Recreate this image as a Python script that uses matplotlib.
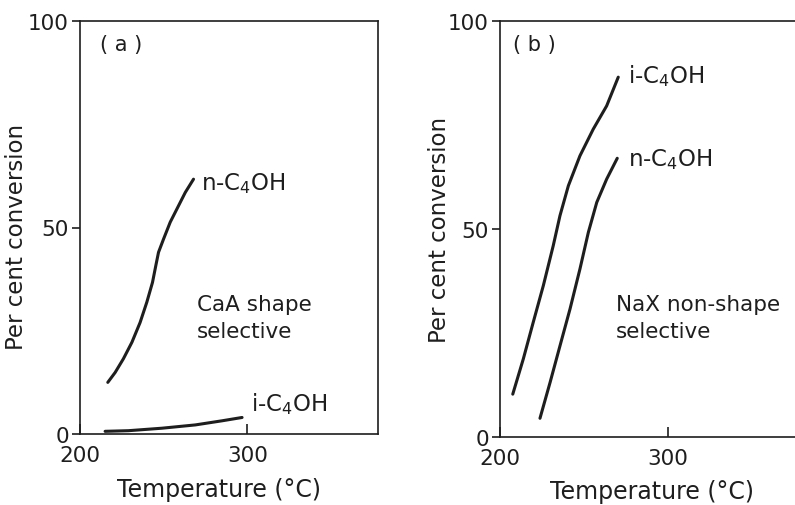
import matplotlib.pyplot as plt
import numpy as np

# panel (a): CaA, shape selective
temp_a_n = [216.6, 221.0, 225.9, 231.0, 235.9, 239.9, 243.3, 245.3, 246.9,
            249.9, 253.9, 258.9, 262.9, 267.8]
conv_a_n = [12.5, 14.9, 18.2, 22.2, 27.0, 31.9, 36.7, 40.8, 44.0,
            47.2, 51.3, 55.3, 58.5, 61.7]
temp_a_i = [215.0, 228.9, 248.9, 268.9, 284.9, 296.8]
conv_a_i = [0.65, 0.8, 1.4, 2.2, 3.2, 4.0]

# panel (b): NaX, non-shape selective
temp_b_i = [207.6, 213.9, 219.8, 225.8, 231.7, 235.7, 240.7, 247.6, 255.5,
            263.5, 270.4]
conv_b_i = [10.3, 18.8, 27.6, 36.4, 46.0, 53.2, 60.4, 67.6, 74.0, 79.6, 86.5]
temp_b_n = [223.8, 229.8, 235.7, 241.7, 247.6, 252.6, 257.6, 263.5, 269.8]
conv_b_n = [4.5, 13.1, 21.9, 30.8, 40.4, 49.2, 56.4, 62.0, 67.0]

xticks = [200, 300]
yticks = [0, 50, 100]

ink = "#1e1e1e"
plt.rcParams["font.family"] = ["DejaVu Sans"]
plt.rcParams["mathtext.default"] = "regular"

fig = plt.figure(figsize=(7.95, 5.06), dpi=100)
ax_a = fig.add_axes([80 / 795, 71 / 506, 298 / 795, 413 / 506])
ax_b = fig.add_axes([500 / 795, 68 / 506, 299 / 795, 416 / 506])

for ax in (ax_a, ax_b):
    ax.set_xlim(200, 378)
    ax.set_ylim(0, 100)
    ax.set_xticks(xticks)
    ax.set_yticks(yticks)
    ax.tick_params(axis="x", direction="in", length=7, width=1.2, pad=8,
                   labelsize=15.5, colors=ink)
    ax.tick_params(axis="y", direction="out", length=6, width=1.2, pad=2,
                   labelsize=15.5, colors=ink)
    for s in ax.spines.values():
        s.set_linewidth(1.2)
        s.set_color(ink)
    ax.set_ylabel("Per cent conversion", fontsize=16.5, color=ink)
    ax.set_xlabel("Temperature (°C)", fontsize=17, color=ink)

ax_a.plot(temp_a_n, conv_a_n, color=ink, lw=2.2, solid_capstyle="round")
ax_a.plot(temp_a_i, conv_a_i, color=ink, lw=2.2, solid_capstyle="round")
ax_a.text(212, 94.5, "( a )", fontsize=15, color=ink, va="center")
ax_a.text(272, 61, "n-C$_4$OH", fontsize=16.5, color=ink, va="center")
ax_a.text(302, 7.5, "i-C$_4$OH", fontsize=16.5, color=ink, va="center")
ax_a.text(270, 31.5, "CaA shape", fontsize=15.5, color=ink, va="center")
ax_a.text(270, 25, "selective", fontsize=15.5, color=ink, va="center")
ax_a.yaxis.set_label_coords(-0.175, 0.48)
ax_a.xaxis.set_label_coords(0.466, -0.105)

ax_b.plot(temp_b_i, conv_b_i, color=ink, lw=2.2, solid_capstyle="round")
ax_b.plot(temp_b_n, conv_b_n, color=ink, lw=2.2, solid_capstyle="round")
ax_b.text(208, 94.5, "( b )", fontsize=15, color=ink, va="center")
ax_b.text(276, 87, "i-C$_4$OH", fontsize=16.5, color=ink, va="center")
ax_b.text(276, 67, "n-C$_4$OH", fontsize=16.5, color=ink, va="center")
ax_b.text(269, 32, "NaX non-shape", fontsize=15.5, color=ink, va="center")
ax_b.text(269, 25.5, "selective", fontsize=15.5, color=ink, va="center")
ax_b.yaxis.set_label_coords(-0.165, 0.5)
ax_b.xaxis.set_label_coords(0.508, -0.1)

fig.savefig("out.png", dpi=100)
